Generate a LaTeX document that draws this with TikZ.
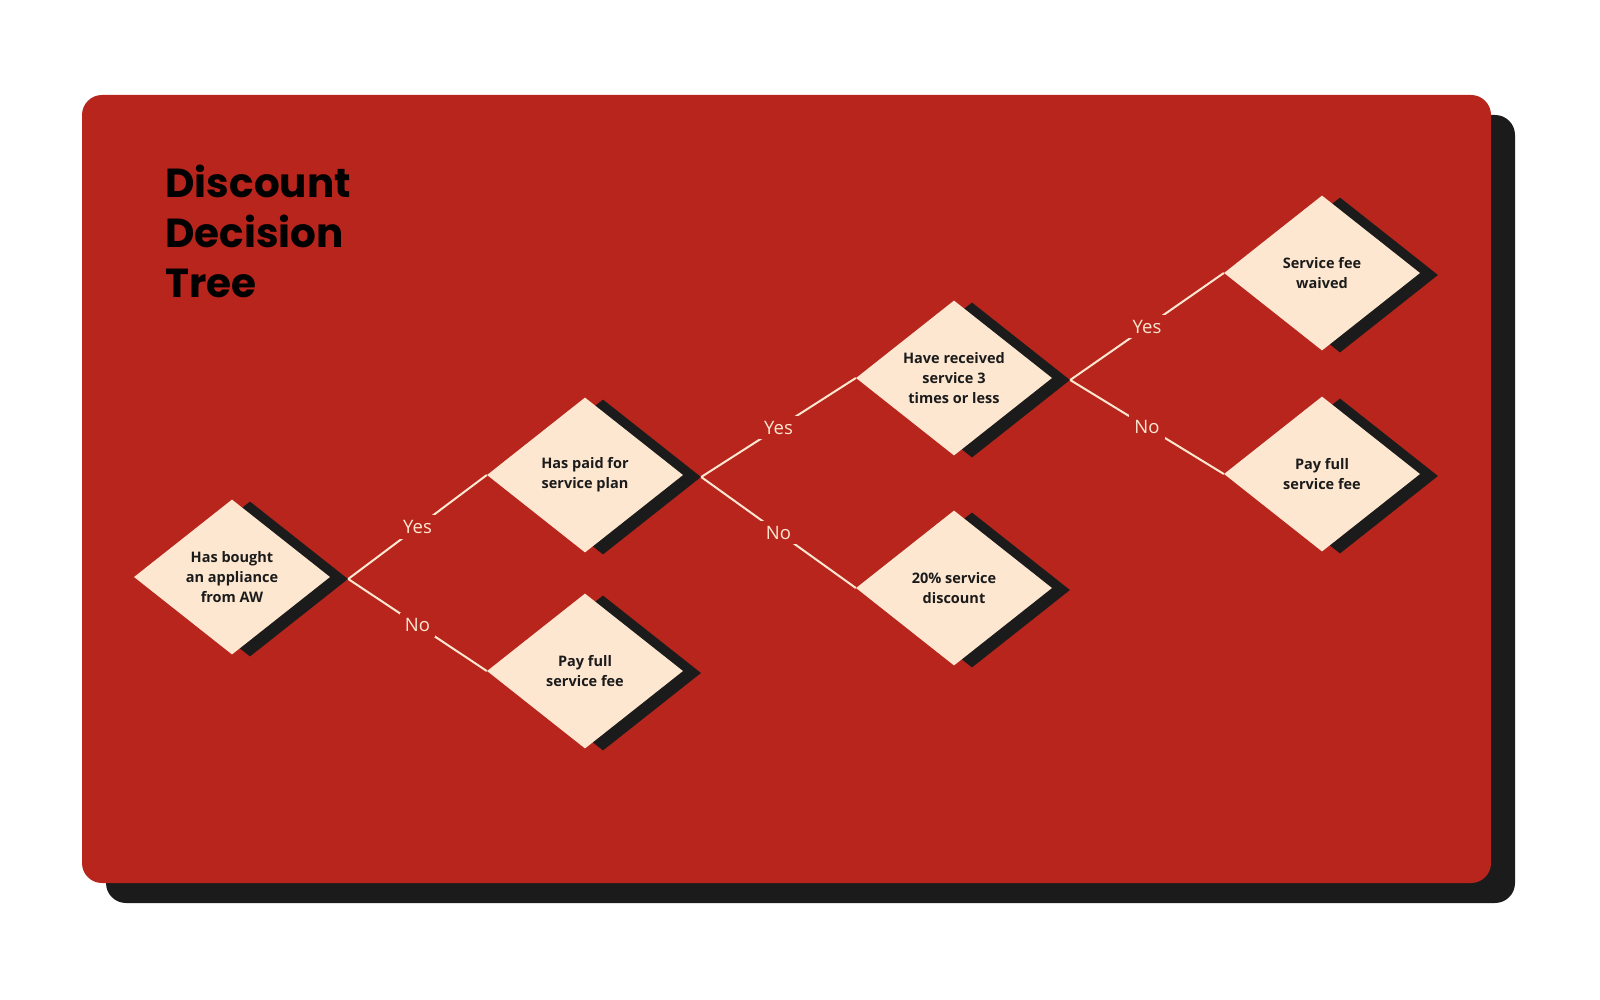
\documentclass[tikz,border=0pt]{standalone}
\usepackage{fontspec}
\setmainfont{Open Sans}
\newfontfamily\titlefont{Poppins}
\usepackage{xcolor}
\usepackage{tikz}
\usetikzlibrary{positioning, shapes.geometric, shadows}

\definecolor{cardred}{HTML}{B8251C}
\definecolor{cream}{HTML}{FDE7D1}
\definecolor{inkblack}{HTML}{1B1B1B}

\begin{document}
\begin{tikzpicture}[x=1pt, y=-1pt,
    choice/.style={diamond, fill=cream, minimum width=196pt, minimum height=155pt, inner sep=0pt, align=center, text=inkblack, font=\fontsize{14.5}{20}\selectfont\bfseries, drop shadow={shadow xshift=18pt, shadow yshift=-2pt, fill=inkblack, opacity=1}},
    branch/.style={draw=cream, line width=2pt},
    answer/.style={fill=cardred, text=cream, font=\fontsize{18.5}{20}\selectfont, inner sep=5pt}
]
\useasboundingbox (0,0) rectangle (1600,1000);

% card and its shadow
\fill[inkblack, rounded corners=20pt] (106,115) rectangle (1515,903);
\fill[cardred, rounded corners=20pt] (82,95) rectangle (1491,883);

\node[anchor=base west, align=left, font=\titlefont\bfseries\fontsize{40.5}{50}\selectfont] (title) at (162,297) {Discount\\Decision\\Tree};

% decisions and outcomes
\node[choice] (bought) at (232,577) {Has bought\\an appliance\\from AW};
\node[choice] (plan) at (585,475) {Has paid for\\service plan};
\node[choice] (fullA) at (585,671) {Pay full\\service fee};
\node[choice] (thrice) at (954,378) {Have received\\service 3\\times or less};
\node[choice] (discount) at (954,588) {20\% service\\discount};
\node[choice] (waived) at (1322,273) {Service fee\\waived};
\node[choice] (fullB) at (1322,474) {Pay full\\service fee};

\foreach \n in {bought, plan, thrice} {
    \coordinate (\n Tip) at ([xshift=18pt, yshift=-2pt]\n.east);
}

\draw[branch] (boughtTip) -- node[answer] {Yes} (plan.west);
\draw[branch] (boughtTip) -- node[answer] {No} (fullA.west);
\draw[branch] (planTip) -- node[answer] {Yes} (thrice.west);
\draw[branch] (planTip) -- node[answer] {No} (discount.west);
\draw[branch] (thriceTip) -- node[answer] {Yes} (waived.west);
\draw[branch] (thriceTip) -- node[answer] {No} (fullB.west);

\end{tikzpicture}
\end{document}
